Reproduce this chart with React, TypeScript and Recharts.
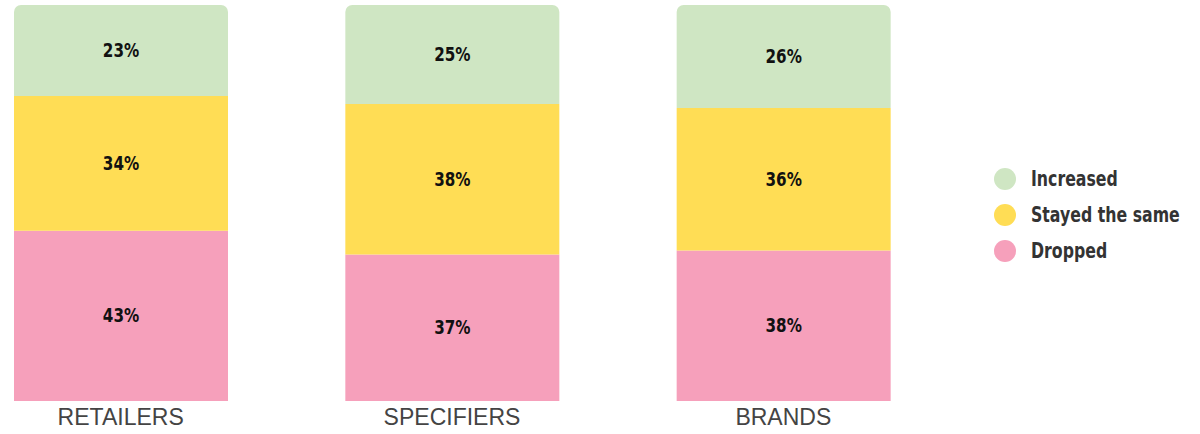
import React from 'react';
import { BarChart, Bar, XAxis, YAxis, LabelList } from 'recharts';

const categories = ['RETAILERS', 'SPECIFIERS', 'BRANDS'];
const dropped = [43, 37, 38];
const stayed = [34, 38, 36];
const increased = [23, 25, 26];

const series = [
  { key: 'dropped', name: 'Dropped', color: '#f6a0bb' },
  { key: 'stayed', name: 'Stayed the same', color: '#ffdd55' },
  { key: 'increased', name: 'Increased', color: '#cfe6c3' },
];

const data = categories.map((name, i) => ({
  name,
  dropped: dropped[i],
  stayed: stayed[i],
  increased: increased[i],
}));

const labelFont = "Impact, 'DejaVu Sans', sans-serif";

// condensed look: squeeze the bold text horizontally
const SegmentLabel = (props: any) => {
  const { x, y, width, height, value } = props;
  const cx = Number(x) + Number(width) / 2;
  const cy = Number(y) + Number(height) / 2;
  return (
    <text
      transform={`translate(${cx},${cy}) scale(0.8,1)`}
      textAnchor="middle"
      dominantBaseline="central"
      fill="#111"
      fontSize={19}
      fontWeight="bold"
      fontFamily={labelFont}
    >
      {`${value}%`}
    </text>
  );
};

export default function App() {
  const legendItems = [...series].reverse();
  return (
    <div style={{ position: 'absolute', left: 0, top: 0, width: 1200, height: 434 }}>
      <BarChart
        width={1200}
        height={434}
        data={data}
        margin={{ top: 5, right: 251, bottom: 0, left: -45 }}
        barSize={214}
      >
        <XAxis
          dataKey="name"
          axisLine={false}
          tickLine={false}
          height={33}
          tickMargin={2}
          tick={{ fill: '#444', fontSize: 23, fontFamily: 'Arial, "Liberation Sans", sans-serif' }}
        />
        <YAxis hide domain={[0, 100]} />
        {series.map((s, idx) => (
          <Bar
            key={s.key}
            dataKey={s.key}
            stackId="a"
            fill={s.color}
            isAnimationActive={false}
            radius={idx === series.length - 1 ? [7, 7, 0, 0] : 0}
          >
            <LabelList dataKey={s.key} content={SegmentLabel} />
          </Bar>
        ))}
      </BarChart>
      <div style={{ position: 'absolute', left: 994, top: 161 }}>
        {legendItems.map((s) => (
          <div key={s.key} style={{ display: 'flex', alignItems: 'center', height: 36 }}>
            <span
              style={{
                display: 'inline-block',
                width: 22,
                height: 22,
                borderRadius: '50%',
                background: s.color,
                marginRight: 15,
              }}
            />
            <span
              style={{
                display: 'inline-block',
                fontFamily: labelFont,
                fontWeight: 'bold',
                fontSize: 21,
                color: '#333',
                whiteSpace: 'nowrap',
                transform: 'scaleX(0.75)',
                transformOrigin: 'left center',
              }}
            >
              {s.name}
            </span>
          </div>
        ))}
      </div>
    </div>
  );
}
